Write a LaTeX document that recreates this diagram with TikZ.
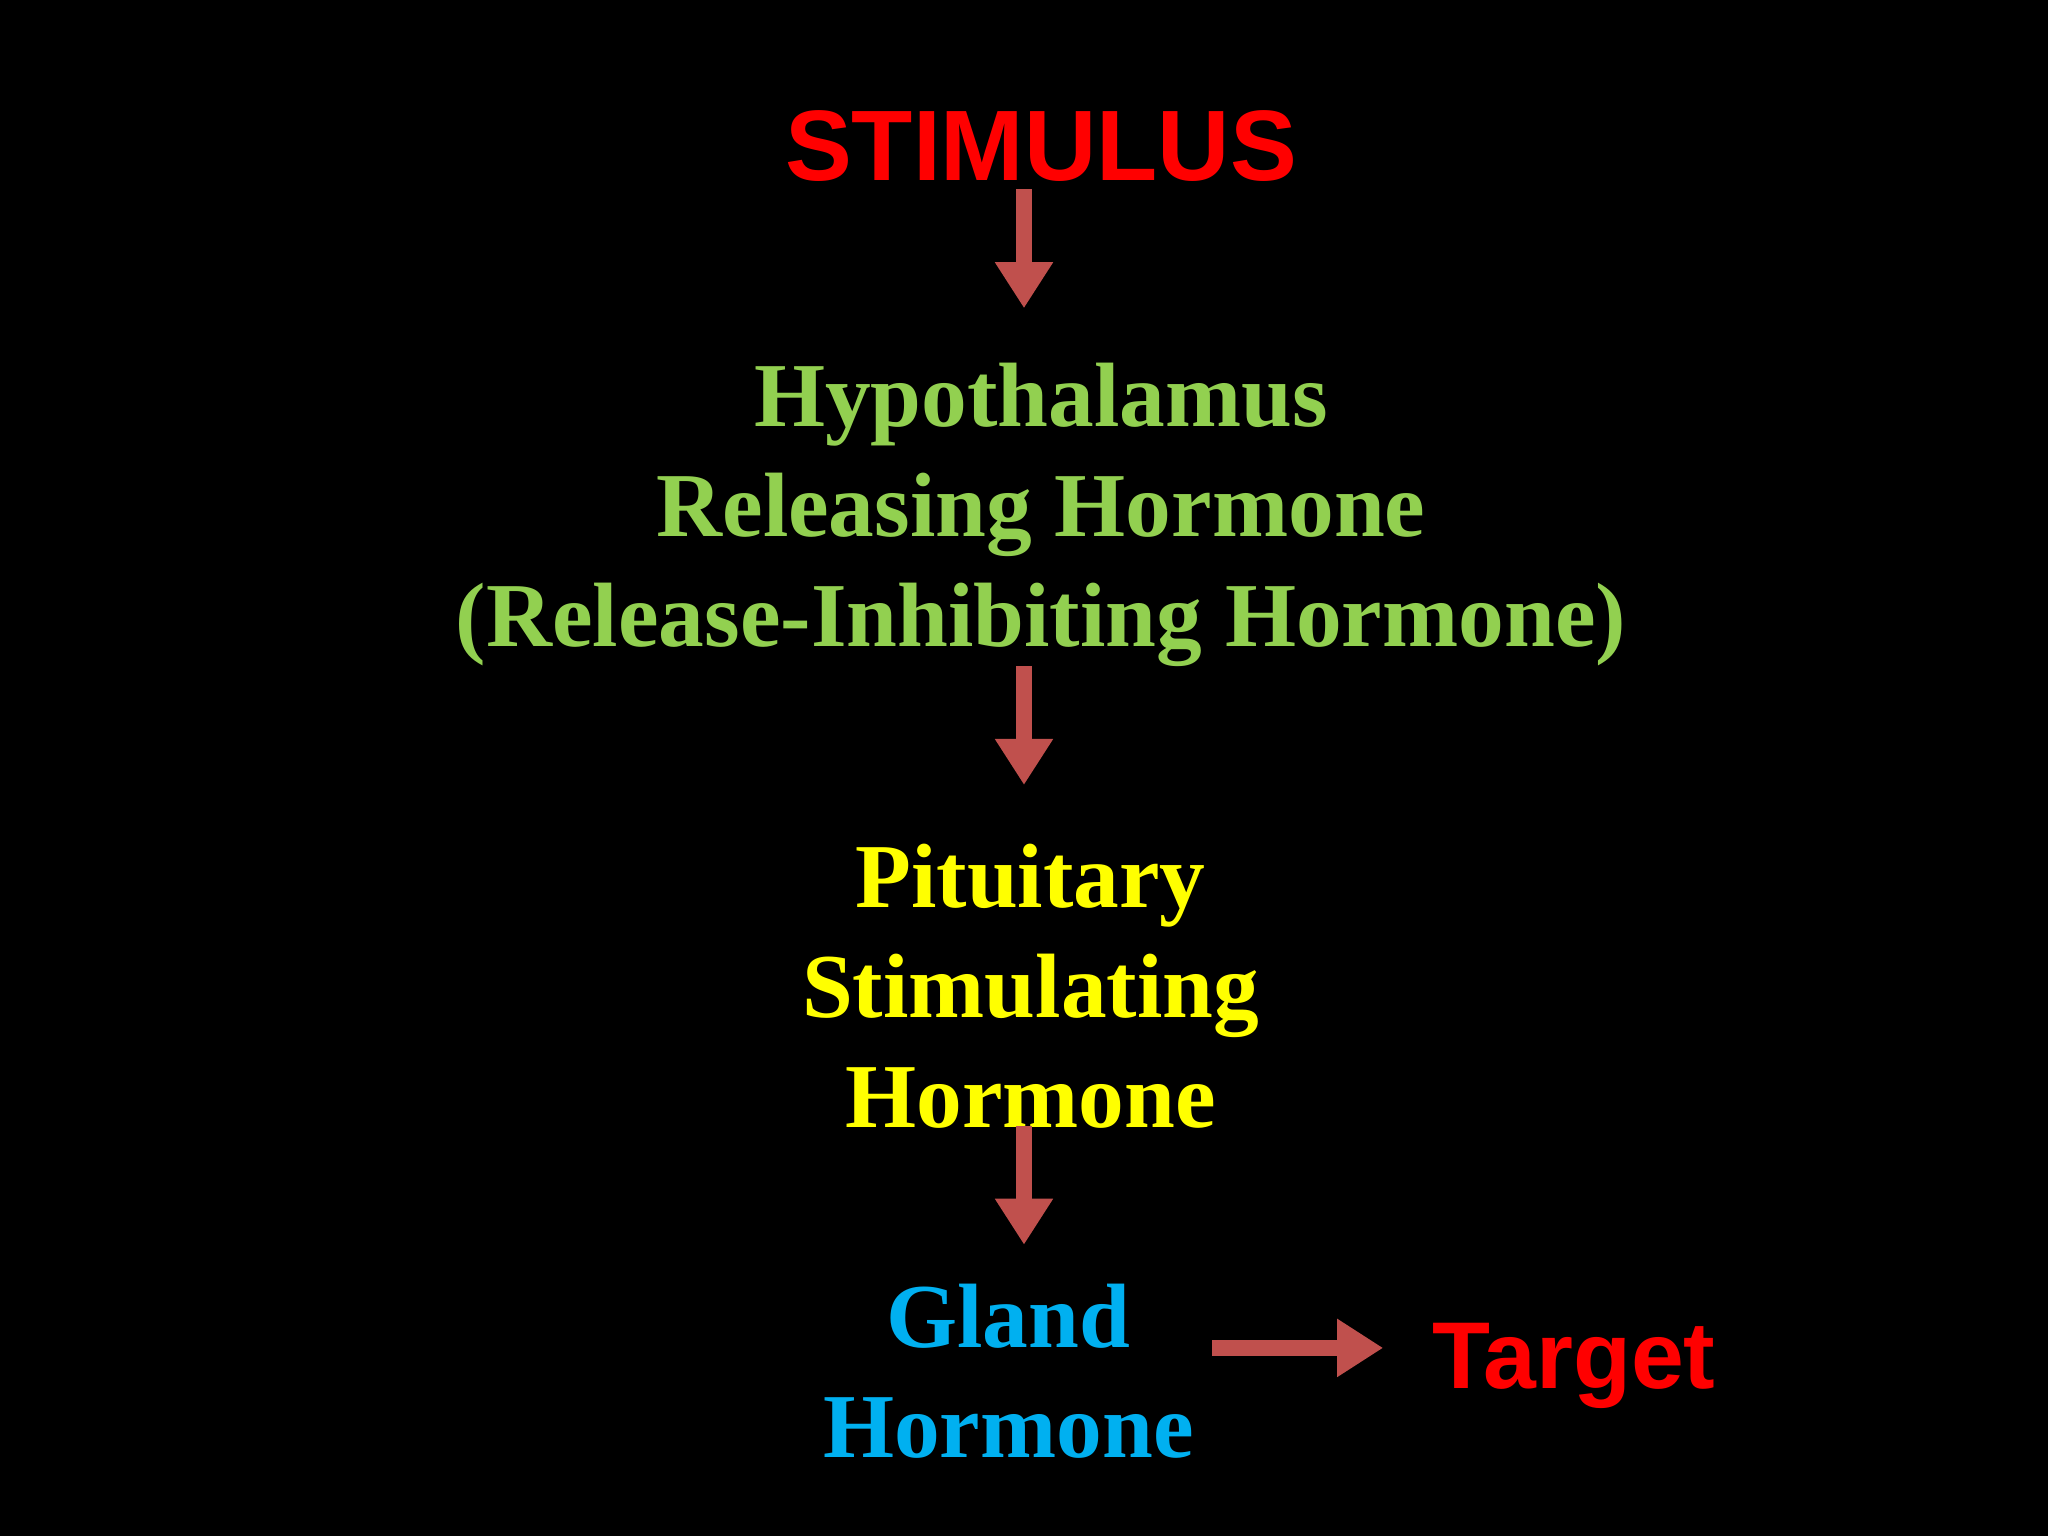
\documentclass[tikz,border=0pt]{standalone}
\usepackage{fontspec}
\setmainfont{Liberation Serif}
\setsansfont{Liberation Sans}
\usetikzlibrary{arrows.meta}
\definecolor{arr}{RGB}{192,80,77}
\definecolor{grn}{RGB}{146,208,80}
\definecolor{yel}{RGB}{255,255,0}
\definecolor{blu}{RGB}{0,176,240}
\definecolor{rd}{RGB}{255,0,0}
\tikzset{
  sans/.style={font=\sffamily\bfseries\fontsize{28.5}{34}\selectfont, text=rd, inner sep=0pt},
  serif/.style={font=\bfseries\fontsize{26}{31.3}\selectfont, align=center, inner sep=0pt},
  harrow/.style={draw=arr, line width=4.5pt, -{Triangle[width=0.55cm,length=0.46cm]}}
}
\begin{document}
\begin{tikzpicture}[x=0.01306cm,y=-0.01306cm]
\fill[black] (0,0) rectangle (1568,1176);
\useasboundingbox (0,0) rectangle (1568,1176);
\node[sans] (stim) at (797,112) {STIMULUS};
\node[serif, text=grn] (hyp) at (797,394) {Hypothalamus\\Releasing Hormone\\(Release-Inhibiting Hormone)};
\node[serif, text=yel] (pit) at (789,755) {Pituitary\\Stimulating\\Hormone};
\node[serif, text=blu] (gland) at (772,1050) {Gland\\Hormone};
\node[sans, font=\sffamily\bfseries\fontsize{27}{32}\selectfont] (tgt) at (1205,1046) {Target};
\coordinate (a1s) at (784,145); \coordinate (a1e) at (784,236);
\coordinate (a2s) at (784,510); \coordinate (a2e) at (784,601);
\coordinate (a3s) at (784,862); \coordinate (a3e) at (784,953);
\coordinate (a4s) at (928,1032); \coordinate (a4e) at (1059,1032);
\draw[harrow] (a1s) -- (a1e);
\draw[harrow] (a2s) -- (a2e);
\draw[harrow] (a3s) -- (a3e);
\draw[harrow] (a4s) -- (a4e);
\end{tikzpicture}
\end{document}
